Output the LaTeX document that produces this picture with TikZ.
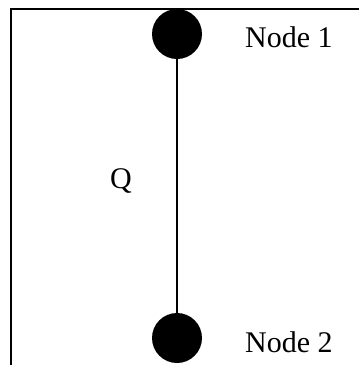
\documentclass[tikz,border=0pt]{standalone}
\usepackage{fontspec}
\setmainfont{Liberation Serif}
\usetikzlibrary{positioning}
\tikzset{
  junction/.style={circle, fill=black, draw=none, inner sep=0pt, minimum size=50pt},
  lbl/.style={inner sep=0pt, font=\fontsize{30}{35}\selectfont},
  branch/.style={line width=2pt, black},
  frame/.style={line width=1.6pt, black},
}
\begin{document}
\begin{tikzpicture}[x=1pt, y=-1pt]
\useasboundingbox (0,0) rectangle (359,365);
\clip (0,0) rectangle (359,365);

% ---------------------------------------------------------------- frame
\draw[frame] (380,9) -- (11,9) -- (11,380);

% ---------------------------------------------------------------- nodes
\node[junction] (n1) at (177,34) {};
\node[junction] (n2) at (177,338) {};
\draw[branch] (n1) -- (n2);

% ---------------------------------------------------------------- labels
\node[lbl, anchor=base west] (t1) at (245,47) {Node 1};
\node[lbl, anchor=base west] (t2) at (245,352) {Node 2};
\node[lbl, anchor=base west] (q) at (110,188) {Q};

\end{tikzpicture}
\end{document}
